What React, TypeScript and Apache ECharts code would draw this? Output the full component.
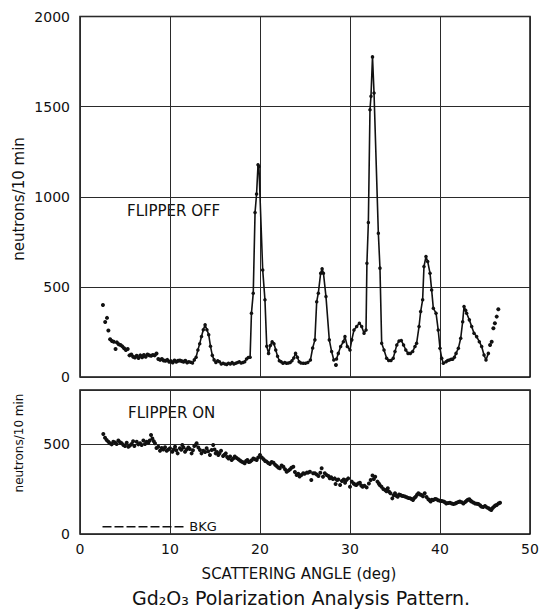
import React, { useEffect, useRef } from "react";
import * as echarts from "echarts";

// FLIPPER OFF: leading dots (not joined)
const offLeadDots: [number, number][] = [
  [2.55, 400], [2.8, 305], [3.0, 328], [3.15, 258], [3.35, 210], [3.55, 200], [3.75, 195], [3.95, 155],
  [4.1, 192], [4.3, 182], [4.5, 178], [4.7, 170], [4.9, 160], [5.1, 150], [5.3, 155], [5.5, 120],
  [5.7, 125], [5.9, 112], [6.1, 108], [6.3, 118], [6.5, 105], [6.7, 120], [6.9, 110], [7.1, 122],
  [7.3, 112], [7.5, 125], [7.7, 120], [7.9, 118], [8.1, 122], [8.3, 120], [8.5, 130], [8.7, 100],
  [8.9, 95], [9.1, 100], [9.3, 92], [9.5, 90], [9.7, 95], [9.9, 85], [10.1, 88], [10.3, 80],
  [10.5, 92], [10.7, 85], [10.9, 90], [11.1, 92], [11.3, 88], [11.5, 85], [11.7, 90], [11.9, 80],
];

// FLIPPER OFF: joined curve
const offCurve: [number, number][] = [
  [12.1, 85], [12.3, 82], [12.5, 78], [12.7, 95], [12.9, 110], [13.1, 150], [13.3, 185], [13.5, 225],
  [13.7, 262], [13.9, 290], [14.1, 262], [14.3, 235], [14.5, 170], [14.7, 120], [14.9, 95], [15.1, 80],
  [15.3, 90], [15.5, 85], [15.7, 72], [15.9, 76], [16.1, 72], [16.3, 70], [16.5, 76], [16.7, 72],
  [16.9, 80], [17.1, 72], [17.3, 76], [17.5, 80], [17.7, 85], [17.9, 78], [18.1, 80], [18.3, 85],
  [18.5, 100], [18.7, 108], [18.9, 110], [19.05, 354], [19.25, 465], [19.45, 913], [19.62, 1015],
  [19.78, 1178], [19.88, 1168], [20.3, 594], [20.55, 428], [20.75, 170], [20.95, 131], [21.15, 175],
  [21.35, 196], [21.55, 185], [21.75, 150], [21.95, 115], [22.15, 90], [22.35, 85], [22.55, 76],
  [22.75, 80], [22.95, 76], [23.15, 78], [23.35, 80], [23.55, 90], [23.75, 105], [23.95, 131],
  [24.15, 110], [24.35, 85], [24.55, 78], [24.8, 76], [25.05, 76], [25.3, 80], [25.6, 94], [25.85, 161],
  [26.1, 206], [26.3, 418], [26.48, 465], [26.74, 576], [26.9, 600], [27.05, 576], [27.33, 446],
  [27.7, 206], [27.96, 141], [28.2, 94], [28.5, 100], [28.7, 131], [28.96, 169], [29.26, 196],
  [29.44, 224], [29.7, 169], [30.0, 150], [30.2, 206], [30.44, 261], [30.74, 280], [31.04, 298],
  [31.3, 280], [31.56, 243], [31.78, 261], [31.88, 631], [32.04, 857], [32.22, 1483], [32.33, 1557],
  [32.5, 1776], [32.67, 1576], [33.15, 798], [33.33, 604], [33.52, 187], [33.78, 150], [34.07, 104],
  [34.3, 91], [34.55, 92], [34.8, 104], [35.0, 141], [35.2, 178], [35.45, 200], [35.7, 202],
  [35.95, 178], [36.2, 150], [36.45, 131], [36.7, 131], [36.96, 141], [37.22, 169], [37.4, 187],
  [37.67, 280], [37.85, 363], [38.07, 428], [38.22, 613], [38.44, 668], [38.63, 641], [38.89, 576],
  [39.07, 483], [39.26, 381], [39.56, 354], [39.8, 261], [40.0, 159], [40.19, 104], [40.37, 76],
  [40.67, 85], [40.85, 92], [41.04, 94], [41.25, 98], [41.4, 98], [41.6, 110], [41.78, 131],
  [42.04, 159], [42.3, 215], [42.52, 307], [42.67, 391], [42.85, 370], [42.96, 354], [43.26, 317],
  [43.52, 280], [43.78, 243], [44.07, 224], [44.37, 196], [44.63, 169], [44.89, 122], [45.11, 94],
  [45.37, 131],
];

// FLIPPER OFF: stray and trailing dots (not joined)
const offTrailDots: [number, number][] = [
  [28.44, 67], [45.56, 178], [45.74, 196], [45.93, 270], [46.1, 298], [46.3, 335], [46.48, 376],
];

// FLIPPER ON dots
const onDots: [number, number][] = [
  [2.59, 556], [2.78, 535], [2.96, 522], [3.15, 512], [3.33, 504], [3.52, 498], [3.7, 513], [3.9, 508],
  [4.07, 500], [4.26, 519], [4.45, 510], [4.63, 504], [4.82, 495], [5.0, 489], [5.19, 507], [5.37, 485],
  [5.55, 492], [5.74, 500], [5.9, 515], [6.04, 489], [6.3, 513], [6.48, 498], [6.67, 504], [6.85, 495],
  [7.04, 519], [7.22, 500], [7.4, 512], [7.59, 507], [7.75, 520], [7.89, 550], [8.04, 530], [8.2, 515],
  [8.33, 504], [8.5, 478], [8.7, 485], [8.89, 463], [9.08, 478], [9.26, 470], [9.45, 482], [9.63, 463],
  [9.82, 470], [10.0, 476], [10.26, 457], [10.4, 470], [10.56, 485], [10.7, 465], [10.85, 448],
  [11.1, 476], [11.25, 468], [11.37, 494], [11.5, 480], [11.67, 457], [11.85, 470], [12.04, 481],
  [12.2, 472], [12.4, 448], [12.55, 465], [12.7, 489], [12.85, 495], [12.96, 504], [13.15, 480],
  [13.33, 467], [13.5, 448], [13.7, 463], [13.9, 455], [14.07, 476], [14.25, 460], [14.44, 439],
  [14.63, 467], [14.8, 494], [14.95, 470], [15.07, 448], [15.22, 455], [15.37, 439], [15.5, 448],
  [15.67, 463], [15.9, 433], [16.05, 440], [16.2, 448], [16.35, 428], [16.5, 420], [16.68, 430],
  [16.85, 411], [17.02, 420], [17.2, 430], [17.4, 422], [17.6, 415], [17.78, 408], [17.96, 402],
  [18.13, 398], [18.3, 393], [18.45, 405], [18.6, 411], [18.75, 400], [18.9, 402], [19.08, 410],
  [19.26, 420], [19.45, 415], [19.63, 411], [19.8, 425], [20.0, 439], [20.2, 425], [20.4, 415],
  [20.57, 405], [20.74, 402], [20.92, 395], [21.1, 389], [21.3, 400], [21.5, 396], [21.68, 385],
  [21.85, 378], [22.02, 370], [22.2, 365], [22.4, 380], [22.6, 374], [22.78, 360], [22.96, 346],
  [23.15, 352], [23.33, 359], [23.5, 368], [23.7, 374], [23.88, 345], [24.07, 328], [24.25, 335],
  [24.4, 319], [24.6, 328], [24.8, 337], [24.95, 335], [25.2, 341], [25.35, 341], [25.55, 346],
  [25.7, 300], [25.9, 337], [26.1, 337], [26.3, 330], [26.5, 322], [26.7, 340], [26.85, 365],
  [27.0, 318], [27.2, 337], [27.4, 328], [27.6, 322], [27.75, 310], [27.9, 315], [28.1, 305],
  [28.3, 309], [28.4, 278], [28.55, 300], [28.7, 303], [28.9, 272], [29.1, 295], [29.3, 303],
  [29.45, 285], [29.6, 300], [29.8, 309], [30.0, 263], [30.2, 291], [30.4, 281], [30.55, 275],
  [30.7, 272], [30.9, 280], [31.1, 285], [31.25, 270], [31.4, 263], [31.6, 268], [31.85, 259],
  [32.1, 281], [32.3, 300], [32.5, 325], [32.65, 305], [32.8, 318], [33.05, 291], [33.2, 280],
  [33.3, 272], [33.5, 263], [33.7, 250], [33.9, 244], [34.05, 238], [34.2, 254], [34.35, 235],
  [34.5, 226], [34.7, 198], [34.85, 215], [35.0, 226], [35.15, 212], [35.3, 207], [35.45, 220],
  [35.6, 217], [35.75, 212], [35.9, 211], [36.1, 208], [36.3, 204], [36.5, 200], [36.7, 198],
  [36.85, 195], [37.0, 189], [37.15, 200], [37.3, 207], [37.45, 218], [37.6, 226], [37.8, 220],
  [37.95, 217], [38.1, 210], [38.3, 226], [38.5, 205], [38.7, 193], [38.85, 188], [38.96, 181],
  [39.1, 190], [39.26, 189], [39.45, 195], [39.6, 193], [39.8, 188], [40.0, 185], [40.2, 183],
  [40.4, 181], [40.55, 176], [40.7, 170], [40.9, 172], [41.1, 174], [41.3, 170], [41.5, 167],
  [41.7, 170], [41.85, 174], [42.05, 178], [42.2, 181], [42.4, 176], [42.6, 170], [42.8, 178],
  [42.96, 185], [43.1, 190], [43.26, 193], [43.4, 185], [43.5, 181], [43.7, 175], [43.9, 170],
  [44.1, 168], [44.26, 167], [44.45, 160], [44.6, 152], [44.8, 150], [45.0, 155], [45.2, 148],
  [45.4, 143], [45.55, 138], [45.7, 133], [45.85, 145], [46.0, 152], [46.15, 158], [46.3, 161],
  [46.5, 170], [46.67, 174],
];

// Background level for FLIPPER ON
const bkgAngles = [2.5, 11.7];
const bkgLevel = 40;

const xTicks = [0, 10, 20, 30, 40, 50];
const offYTicks = [0, 500, 1000, 1500, 2000];
const onYTicks = [0, 500];

const FONT = "DejaVu Sans";
const INK = "#111";

export default function App() {
  const ref = useRef<HTMLDivElement>(null);
  useEffect(() => {
    const chart = echarts.init(ref.current!, null, { renderer: "svg" });
    const splitLine = { show: true, lineStyle: { color: "#2a2a2a", width: 1 } };
    const axisLabel = { fontFamily: FONT, fontSize: 14, color: INK, formatter: (v: number) => String(v) };
    const dot = { color: INK, opacity: 1 };
    const option: any = {
      animation: false,
      backgroundColor: "#fff",
      grid: [
        { left: 80, top: 16.5, width: 450, height: 360.5, show: true, borderColor: INK, borderWidth: 1.5, backgroundColor: "transparent" },
        { left: 80, top: 390, width: 450, height: 144, show: true, borderColor: INK, borderWidth: 1.5, backgroundColor: "transparent" },
      ],
      xAxis: [
        {
          gridIndex: 0, type: "value", min: xTicks[0], max: xTicks[xTicks.length - 1], interval: 10,
          axisLabel: { show: false }, axisTick: { show: false }, axisLine: { show: false }, splitLine,
        },
        {
          gridIndex: 1, type: "value", min: xTicks[0], max: xTicks[xTicks.length - 1], interval: 10,
          axisLabel: { ...axisLabel, margin: 8 }, axisTick: { show: false }, axisLine: { show: false }, splitLine,
        },
      ],
      yAxis: [
        {
          gridIndex: 0, type: "value", min: offYTicks[0], max: offYTicks[offYTicks.length - 1], interval: 500,
          axisLabel: { ...axisLabel, margin: 10 }, axisTick: { show: false }, axisLine: { show: false }, splitLine,
        },
        {
          gridIndex: 1, type: "value", min: onYTicks[0], max: 800, interval: 500,
          axisLabel: { ...axisLabel, margin: 10, showMaxLabel: false }, axisTick: { show: false }, axisLine: { show: false }, splitLine,
        },
      ],
      series: [
        {
          type: "scatter", xAxisIndex: 0, yAxisIndex: 0, data: offLeadDots,
          symbol: "circle", symbolSize: 4, itemStyle: dot,
        },
        {
          type: "line", xAxisIndex: 0, yAxisIndex: 0, data: offCurve,
          symbol: "circle", symbolSize: 3.5, showAllSymbol: true,
          lineStyle: { color: INK, width: 1.6 }, itemStyle: dot,
        },
        {
          type: "scatter", xAxisIndex: 0, yAxisIndex: 0, data: offTrailDots,
          symbol: "circle", symbolSize: 4, itemStyle: dot,
        },
        {
          type: "scatter", xAxisIndex: 1, yAxisIndex: 1, data: onDots,
          symbol: "circle", symbolSize: 4, itemStyle: dot,
        },
        {
          type: "line", xAxisIndex: 1, yAxisIndex: 1,
          data: bkgAngles.map((a) => [a, bkgLevel]),
          symbol: "none",
          lineStyle: { color: INK, width: 1.5, type: [9, 3] },
          endLabel: { show: true, formatter: "BKG", fontFamily: FONT, fontSize: 13, color: INK, distance: 4 },
        },
      ],
      graphic: [
        {
          type: "text", x: 19, y: 199, rotation: Math.PI / 2,
          style: { text: "neutrons/10 min", font: `15px "${FONT}"`, fill: INK, textAlign: "center", textVerticalAlign: "middle" },
        },
        {
          type: "text", x: 19, y: 443, rotation: Math.PI / 2,
          style: { text: "neutrons/10 min", font: `12px "${FONT}"`, fill: INK, textAlign: "center", textVerticalAlign: "middle" },
        },
        {
          type: "text", x: 127, y: 211,
          style: { text: "FLIPPER OFF", font: `15px "${FONT}"`, fill: INK, textAlign: "left", textVerticalAlign: "middle" },
        },
        {
          type: "text", x: 128, y: 413,
          style: { text: "FLIPPER ON", font: `15px "${FONT}"`, fill: INK, textAlign: "left", textVerticalAlign: "middle" },
        },
        {
          type: "text", x: 299, y: 574,
          style: { text: "SCATTERING ANGLE (deg)", font: `15px "${FONT}"`, fill: INK, textAlign: "center", textVerticalAlign: "middle" },
        },
        {
          type: "text", x: 301, y: 598,
          style: { text: "Gd₂O₃ Polarization Analysis Pattern.", font: `19px "${FONT}"`, fill: INK, textAlign: "center", textVerticalAlign: "middle" },
        },
      ],
    };
    chart.setOption(option);
    return () => chart.dispose();
  }, []);
  return <div ref={ref} style={{ position: "fixed", left: 0, top: 0, width: 544, height: 611 }} />;
}
